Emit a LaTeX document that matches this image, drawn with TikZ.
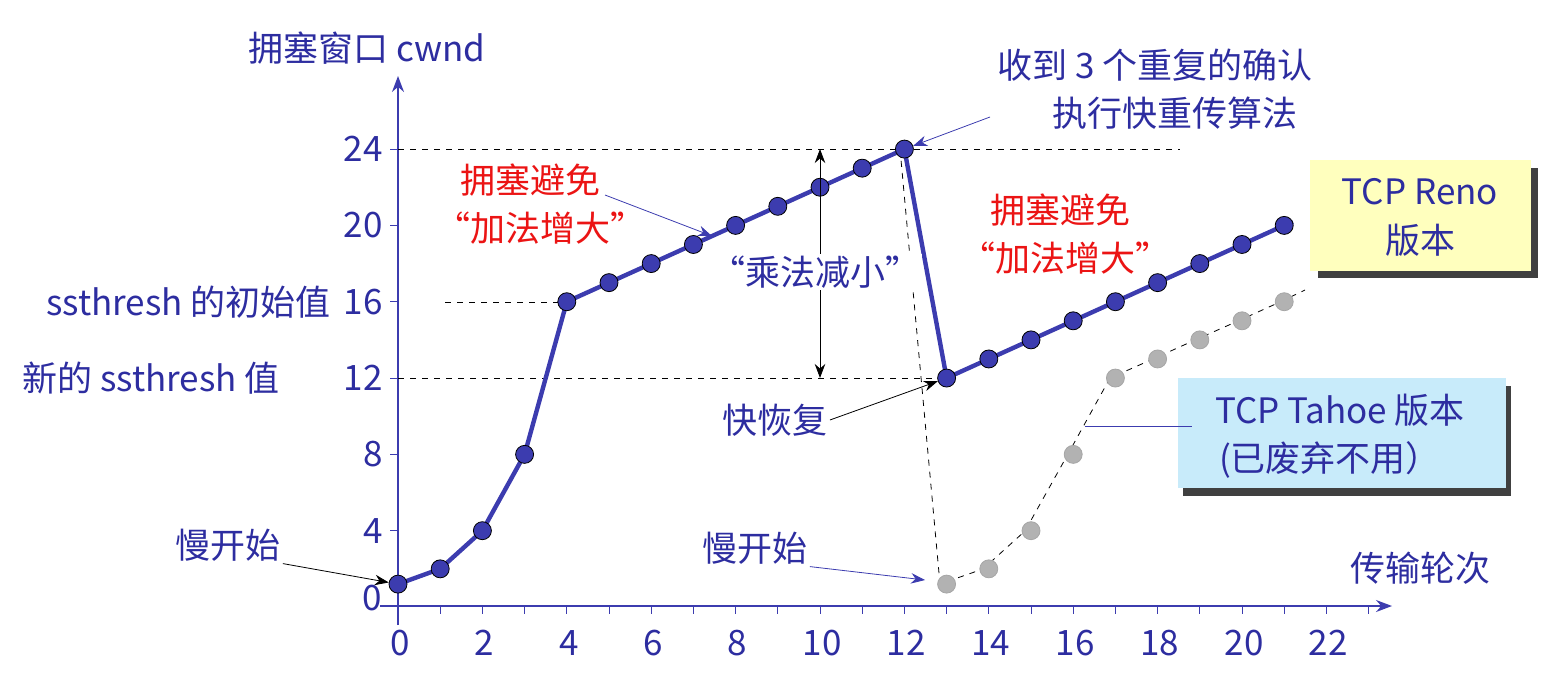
\documentclass[tikz,border=0pt]{standalone}
\usepackage{fontspec}
\setmainfont{Noto Sans CJK SC}
\usetikzlibrary{arrows.meta}
\definecolor{tb}{RGB}{45,45,160}
\definecolor{lb}{RGB}{60,60,175}
\definecolor{rd}{RGB}{235,20,20}
\definecolor{yl}{RGB}{255,255,190}
\definecolor{cy}{RGB}{200,235,250}
\begin{document}
\begin{tikzpicture}[x=0.5pt,y=-0.5pt,
  txt/.style={text=tb,font=\fontsize{17.5}{20}\selectfont,inner sep=1pt},
  red/.style={text=rd,font=\fontsize{17.5}{20}\selectfont,inner sep=1pt},
  dot/.style={circle,draw=black,fill=lb,minimum size=9pt,inner sep=0pt},
  gdot/.style={circle,draw=gray!70,fill=gray!60,minimum size=9pt,inner sep=0pt},
  ptr/.style={-{Stealth[length=7pt]},thin},
  dsh/.style={dashed,thin}]
\useasboundingbox (0,0) rectangle (1551,675);
% axes
\coordinate (yb) at (398,625); \coordinate (yt) at (398,76);
\coordinate (xl) at (380,606); \coordinate (xr) at (1392,606);
\draw[lb,thick,-{Stealth[length=8pt]}] (yb) -- (yt);
\draw[lb,thick,-{Stealth[length=8pt]}] (xl) -- (xr);
\foreach \r in {0,...,23} \draw[lb] (398+42.2*\r,606) -- (398+42.2*\r,614);
\foreach \r in {0,2,...,22} \node[txt] at (400+42.2*\r,643) {\r};
\foreach \c in {4,8,...,24} {\draw[lb] (390,607-19.08*\c) -- (398,607-19.08*\c);
  \node[txt,anchor=east] at (385,607-19.08*\c) {\c};}
\node[txt] at (372,598) {0};
% dashed guides
\draw[dsh] (398,149) -- (1180,149);
\draw[dsh] (445,302) -- (565,302);
\draw[dsh] (398,378) -- (940,378);
% Reno
\def\pts{0/1.2,1/2,2/4,3/8,4/16,5/17,6/18,7/19,8/20,9/21,10/22,11/23,12/24,13/12,14/13,15/14,16/15,17/16,18/17,19/18,20/19,21/20}
\draw[lb,line width=2.2pt] (398,584) foreach \r/\c in \pts {-- (398+42.2*\r,607-19.08*\c)} -- (1293,222);
% Tahoe
\draw[dsh] (900,149) -- (940,584) -- (983,569) -- (1025,531) -- (1068,454) -- (1110,378) -- (1153,359) -- (1195,340) -- (1238,321) -- (1280,302) -- (1305,290);
\foreach \r/\c in {13/1.2,14/2,15/4,16/8,17/12,18/13,19/14,20/15,21/16} \node[gdot] at (398+42.2*\r,607-19.08*\c) {};
\foreach \r/\c in \pts \node[dot] (p\r) at (398+42.2*\r,607-19.08*\c) {};
% halving arrow
\coordinate (ha) at (820,149); \coordinate (hb) at (820,378);
\draw[{Stealth[length=7pt]}-{Stealth[length=7pt]}] (ha) -- (hb);
\node[txt,fill=white] at (815,272) {“乘法减小”};
% labels
\node[txt,anchor=west] at (246,48) {拥塞窗口 cwnd};
\node[txt] (fr1) at (1155,65) {收到 3 个重复的确认};
\node[txt] (fr2) at (1175,113) {执行快重传算法};
\coordinate (fa) at (990,117);
\draw[ptr,lb] (fa) -- (p12);
\node[red] at (530,180) {拥塞避免};
\node[red] at (540,228) {“加法增大”};
\coordinate (ca1) at (605,195); \coordinate (ca2) at (712,236);
\draw[ptr,lb] (ca1) -- (ca2);
\node[red] at (1060,210) {拥塞避免};
\node[red] at (1065,258) {“加法增大”};
\node[txt,anchor=east] at (333,302) {ssthresh 的初始值};
\node[txt,anchor=east] at (282,378) {新的 ssthresh 值};
\node[txt] (kh) at (775,420) {快恢复};
\draw[ptr,black] (kh.east) -- (p13);
\node[txt] (ms1) at (228,545) {慢开始};
\draw[ptr,black] (ms1.south east) -- (p0);
\node[txt] (ms2) at (755,548) {慢开始};
\coordinate (ms2t) at (925,580);
\draw[ptr,lb] (ms2.south east) -- (ms2t);
\node[txt] at (1420,568) {传输轮次};
% boxes
\fill[black!75] (1318,168) rectangle (1538,278);
\node[draw=yl,fill=yl,minimum width=110pt,minimum height=55pt] (reno) at (1420,215) {};
\node[txt] at (1420,192) {TCP Reno};
\node[txt] at (1420,240) {版本};
\fill[black!75] (1183,386) rectangle (1511,496);
\node[fill=cy,minimum width=164pt,minimum height=55pt] (tahoe) at (1342,433) {};
\node[txt] (tt) at (1340,410) {TCP Tahoe 版本};
\node[txt] at (1330,460) {(已废弃不用）};
\coordinate (tc) at (1085,426);
\draw[lb] (tc) -- (1192,426);
\end{tikzpicture}
\end{document}
